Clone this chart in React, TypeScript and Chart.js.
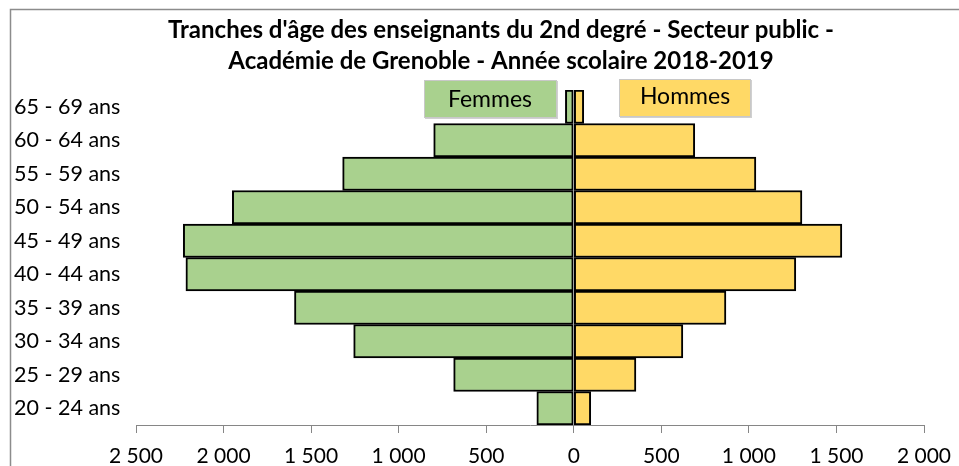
import React, { useEffect, useRef } from "react";
import { Chart, registerables } from "chart.js";

Chart.register(...registerables);

const categories = [
  "65 - 69 ans",
  "60 - 64 ans",
  "55 - 59 ans",
  "50 - 54 ans",
  "45 - 49 ans",
  "40 - 44 ans",
  "35 - 39 ans",
  "30 - 34 ans",
  "25 - 29 ans",
  "20 - 24 ans",
];
const femmes = [48, 800, 1320, 1950, 2230, 2215, 1595, 1257, 686, 211];
const hommes = [57, 691, 1040, 1303, 1531, 1268, 869, 623, 355, 97];
const titleLines = [
  "Tranches d'âge des enseignants du 2nd degré - Secteur public -",
  "Académie de Grenoble - Année scolaire 2018-2019",
];
const seriesNames = ["Femmes", "Hommes"];
const xMin = -2500;
const xMax = 2000;
const xStep = 500;

const FONT = "Lato, 'Liberation Sans', sans-serif";

function fmt(v: number) {
  const a = Math.abs(v);
  const s = String(a);
  return s.length > 3 ? s.slice(0, s.length - 3) + " " + s.slice(-3) : s;
}

const decorPlugin = {
  id: "decor",
  afterDraw(chart: any) {
    const ctx = chart.ctx as CanvasRenderingContext2D;
    ctx.save();
    // chart border (top & left visible)
    ctx.strokeStyle = "#8c8c8c";
    ctx.lineWidth = 1.5;
    ctx.beginPath();
    ctx.moveTo(10.5, chart.height);
    ctx.lineTo(10.5, 9.5);
    ctx.lineTo(chart.width, 9.5);
    ctx.stroke();

    // title
    ctx.fillStyle = "#000";
    ctx.font = `bold 24px ${FONT}`;
    ctx.textAlign = "center";
    ctx.textBaseline = "middle";
    ctx.fillText(titleLines[0], 501, 30);
    ctx.fillText(titleLines[1], 501, 61);

    // legend boxes
    const boxes = [
      { x: 424, y: 80, w: 132, h: 37, fill: "#A9D18E", label: seriesNames[0], tx: 490, ty: 100 },
      { x: 619, y: 79, w: 131, h: 37, fill: "#FFD966", label: seriesNames[1], tx: 685, ty: 97 },
    ];
    for (const b of boxes) {
      ctx.fillStyle = "#d0d0d0";
      ctx.fillRect(b.x + 1, b.y + 1, b.w + 1, b.h + 1);
      ctx.fillStyle = b.fill;
      ctx.fillRect(b.x, b.y, b.w, b.h);
      ctx.strokeStyle = "#c8c8c8";
      ctx.lineWidth = 1;
      ctx.strokeRect(b.x + 0.5, b.y + 0.5, b.w, b.h);
      ctx.fillStyle = "#000";
      ctx.font = `23px ${FONT}`;
      ctx.fillText(b.label, b.tx, b.ty);
    }
    ctx.restore();
  },
};

export default function App() {
  const ref = useRef<HTMLCanvasElement | null>(null);
  useEffect(() => {
    if (!ref.current) return;
    const chart = new Chart(ref.current, {
      type: "bar",
      data: {
        labels: categories,
        datasets: [
          {
            label: seriesNames[0],
            data: femmes.map((v) => -v),
            backgroundColor: "#A9D18E",
            borderColor: "#000",
            borderWidth: 2,
            borderSkipped: false,
            categoryPercentage: 1,
            barPercentage: 1,
          },
          {
            label: seriesNames[1],
            data: hommes,
            backgroundColor: "#FFD966",
            borderColor: "#000",
            borderWidth: 2,
            borderSkipped: false,
            categoryPercentage: 1,
            barPercentage: 1,
          },
        ],
      },
      options: {
        indexAxis: "y",
        animation: false,
        responsive: false,
        maintainAspectRatio: false,
        layout: { padding: { left: 14, right: 35, top: 90, bottom: 0 } },
        plugins: {
          legend: { display: false },
          title: { display: false },
          tooltip: { enabled: false },
        },
        scales: {
          x: {
            stacked: true,
            min: xMin,
            max: xMax,
            afterFit(scale: any) {
              scale.height = 41;
              scale.paddingLeft = 0;
              scale.paddingRight = 0;
            },
            ticks: {
              stepSize: xStep,
              padding: 11,
              color: "#000",
              font: { family: FONT, size: 21 },
              callback: (v: any) => fmt(Number(v)),
              maxRotation: 0,
              autoSkip: false,
            },
            grid: {
              drawOnChartArea: false,
              drawTicks: true,
              tickLength: 8,
              color: "#868686",
              lineWidth: 1,
            },
            border: { display: true, color: "#868686", width: 1 },
          },
          y: {
            stacked: true,
            afterFit(scale: any) {
              scale.width = 122;
            },
            ticks: {
              crossAlign: "far",
              color: "#000",
              font: { family: FONT, size: 21.5 },
              padding: 0,
            },
            grid: { display: false },
            border: { display: false },
          },
        },
      },
      plugins: [decorPlugin],
    } as any);
    return () => chart.destroy();
  }, []);
  return (
    <div style={{ position: "fixed", left: 0, top: 0, width: 959, height: 466, background: "#fff" }}>
      <canvas ref={ref} width={959} height={466} style={{ width: 959, height: 466 }} />
    </div>
  );
}
